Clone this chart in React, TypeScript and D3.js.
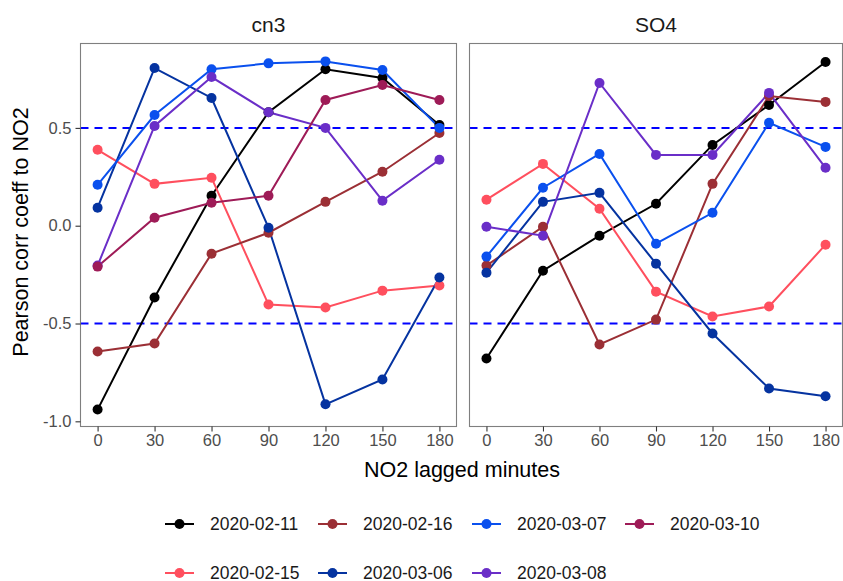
import { useRef, useEffect } from 'react';
import * as d3 from 'd3';

// lag times (minutes)
const lags = [0, 30, 60, 90, 120, 150, 180];
const panels = ['cn3', 'SO4'];
const dates = ['2020-02-11', '2020-02-15', '2020-02-16', '2020-03-06', '2020-03-07', '2020-03-08', '2020-03-10'];
const colors = ['#000000', '#FF4F5E', '#9B2F35', '#0533A0', '#0A50EE', '#6A2EC8', '#9E1B57'];

// cn3 panel
const cn3_0211 = [-0.94, -0.367, 0.153, 0.58, 0.80, 0.755, 0.515];
const cn3_0215 = [0.388, 0.214, 0.245, -0.403, -0.418, -0.332, -0.306];
const cn3_0216 = [-0.643, -0.602, -0.143, -0.036, 0.122, 0.276, 0.474];
const cn3_0306 = [0.092, 0.806, 0.653, -0.01, -0.913, -0.786, -0.265];
const cn3_0307 = [0.209, 0.566, 0.80, 0.83, 0.84, 0.796, 0.50];
const cn3_0308 = [-0.204, 0.51, 0.76, 0.58, 0.50, 0.128, 0.337];
const cn3_0310 = [-0.209, 0.041, 0.117, 0.153, 0.643, 0.719, 0.643];

// SO4 panel (no 2020-03-10 values)
const so4_0211 = [-0.679, -0.23, -0.051, 0.112, 0.413, 0.617, 0.837];
const so4_0215 = [0.133, 0.316, 0.087, -0.337, -0.464, -0.413, -0.097];
const so4_0216 = [-0.204, -0.005, -0.607, -0.48, 0.214, 0.663, 0.633];
const so4_0306 = [-0.24, 0.122, 0.168, -0.194, -0.551, -0.832, -0.872];
const so4_0307 = [-0.158, 0.194, 0.367, -0.092, 0.066, 0.526, 0.403];
const so4_0308 = [-0.005, -0.051, 0.73, 0.362, 0.362, 0.679, 0.296];

const seriesByPanel = [
  [cn3_0211, cn3_0215, cn3_0216, cn3_0306, cn3_0307, cn3_0308, cn3_0310],
  [so4_0211, so4_0215, so4_0216, so4_0306, so4_0307, so4_0308, null],
];

const yTicks = [-1.0, -0.5, 0.0, 0.5];
const refLines = [-0.5, 0.5];

const App = () => {
  const svgRef = useRef(null);
  const width = 843;
  const height = 581;

  useEffect(() => {
    const svg = d3.select(svgRef.current);
    svg.selectAll('*').remove();

    const font = 'Liberation Sans, Arial, sans-serif';
    const top = 43.5, bottom = 426.5;
    const panelX = [[80.5, 456.5], [469.5, 842.5]];

    const y = d3.scaleLinear().domain([-1.0265, 0.9315]).range([bottom, top]);

    panels.forEach((name, pi) => {
      const [x0, x1] = panelX[pi];
      const x = d3.scaleLinear().domain([-9, 189]).range([x0, x1]);
      const g = svg.append('g');

      // strip title
      g.append('text')
        .attr('x', (x0 + x1) / 2)
        .attr('y', 32)
        .attr('text-anchor', 'middle')
        .attr('font-family', font)
        .attr('font-size', 21)
        .attr('fill', '#1A1A1A')
        .text(name);

      // reference lines
      refLines.forEach(v => {
        g.append('line')
          .attr('x1', x0).attr('x2', x1)
          .attr('y1', y(v)).attr('y2', y(v))
          .attr('stroke', '#0000FF')
          .attr('stroke-width', 2)
          .attr('stroke-dasharray', '8,6');
      });

      const line = d3.line<number>()
        .x((d, i) => x(lags[i]))
        .y(d => y(d));

      const series = seriesByPanel[pi];
      series.forEach((vals, si) => {
        if (!vals) return;
        g.append('path')
          .datum(vals)
          .attr('fill', 'none')
          .attr('stroke', colors[si])
          .attr('stroke-width', 2)
          .attr('d', line);
      });
      series.forEach((vals, si) => {
        if (!vals) return;
        g.selectAll(null)
          .data(vals)
          .enter()
          .append('circle')
          .attr('cx', (d, i) => x(lags[i]))
          .attr('cy', d => y(d))
          .attr('r', 5)
          .attr('fill', colors[si]);
      });

      // panel border
      g.append('rect')
        .attr('x', x0).attr('y', top)
        .attr('width', x1 - x0).attr('height', bottom - top)
        .attr('fill', 'none')
        .attr('stroke', '#7F7F7F')
        .attr('stroke-width', 1.1);

      // x axis
      const xAxis = d3.axisBottom(x).tickValues(lags).tickSize(5).tickPadding(3);
      const xg = g.append('g')
        .attr('transform', `translate(0,${bottom})`)
        .call(xAxis);
      xg.select('.domain').remove();
      xg.selectAll('line').attr('stroke', '#333333').attr('stroke-width', 1.1);
      xg.selectAll('text')
        .attr('font-family', font)
        .attr('font-size', 16.5)
        .attr('fill', '#4D4D4D');

      if (pi === 0) {
        const yAxis = d3.axisLeft(y).tickValues(yTicks).tickSize(5).tickPadding(4);
        const yg = g.append('g')
          .attr('transform', `translate(${x0},0)`)
          .call(yAxis);
        yg.select('.domain').remove();
        yg.selectAll('line').attr('stroke', '#333333').attr('stroke-width', 1.1);
        yg.selectAll('text')
          .attr('font-family', font)
          .attr('font-size', 16.5)
          .attr('fill', '#4D4D4D')
          .text(d => d3.format('.1f')(d).replace('−', '-'));
      }
    });

    // axis titles
    svg.append('text')
      .attr('x', 462)
      .attr('y', 477)
      .attr('text-anchor', 'middle')
      .attr('font-family', font)
      .attr('font-size', 21.5)
      .attr('fill', '#000')
      .text('NO2 lagged minutes');

    svg.append('text')
      .attr('transform', `translate(28,${(top + bottom) / 2 - 3}) rotate(-90)`)
      .attr('text-anchor', 'middle')
      .attr('font-family', font)
      .attr('font-size', 21.5)
      .attr('fill', '#000')
      .text('Pearson corr coeff to NO2');

    // legend, filled column-wise in two rows
    const colX = [165, 318, 472, 625];
    const rowY = [524, 573];
    dates.forEach((dt, i) => {
      const cx = colX[Math.floor(i / 2)];
      const cy = rowY[i % 2];
      const lg = svg.append('g');
      lg.append('line')
        .attr('x1', cx).attr('x2', cx + 29)
        .attr('y1', cy).attr('y2', cy)
        .attr('stroke', colors[i])
        .attr('stroke-width', 2);
      lg.append('circle')
        .attr('cx', cx + 14.5).attr('cy', cy)
        .attr('r', 5)
        .attr('fill', colors[i]);
      lg.append('text')
        .attr('x', cx + 45)
        .attr('y', cy + 6)
        .attr('font-family', font)
        .attr('font-size', 17.5)
        .attr('fill', '#1A1A1A')
        .text(dt);
    });
  }, []);

  return (
    <svg ref={svgRef} width={width} height={height}
      style={{ position: 'absolute', left: 0, top: 0, background: '#fff' }}></svg>
  );
};

export default App;
